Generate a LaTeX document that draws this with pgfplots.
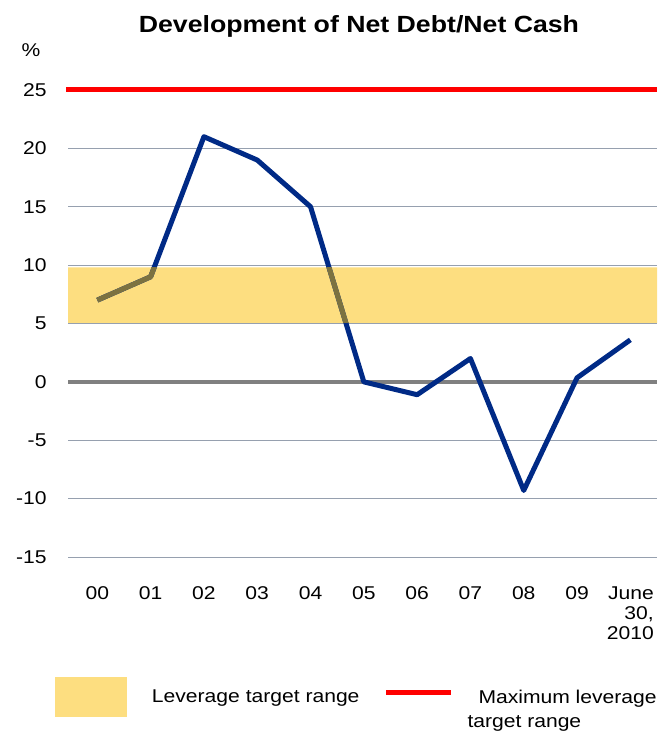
\documentclass[border=0pt]{standalone}
\usepackage{pgfplots}
\pgfplotsset{compat=1.18}
\usepackage{fontspec}
\setmainfont{Liberation Sans}[FakeStretch=1.14]
\definecolor{navyline}{RGB}{0,42,134}
\definecolor{bandcol}{RGB}{253,222,128}
\definecolor{olivecol}{RGB}{124,114,64}
\definecolor{gridcol}{RGB}{150,160,175}
\definecolor{zerocol}{RGB}{128,128,128}
\definecolor{redcol}{RGB}{255,0,0}
\pgfplotstableread{
x y
0 7
1 9
2 21
3 19
4 15
5 0
6 -1.1
7 2
8 -9.3
9 0.35
10 3.6
}\netdebt
\begin{document}
\begin{tikzpicture}[x=1pt,y=1pt]
\path[use as bounding box] (0,0) rectangle (659,731);
\begin{axis}[
  at={(68pt,174pt)}, anchor=south west,
  width=589pt, height=467pt, scale only axis,
  xmin=-0.55, xmax=10.5, ymin=-15, ymax=25,
  clip=false,
  axis line style={draw=none},
  major tick length=0pt,
  xtick={0,1,2,3,4,5,6,7,8,9,10},
  xticklabels={00,01,02,03,04,05,06,07,08,09,{June\\30,\\2010}},
  ytick={-15,-10,-5,0,5,10,15,20,25},
  yticklabels={-15,-10,-5,0,5,10,15,20,25},
  ymajorgrids,
  major grid style={draw=gridcol, line width=1pt},
  xticklabel style={anchor=north, inner sep=0pt, yshift=-29.7pt, align=right,
    font=\fontsize{18.5}{19.7}\selectfont},
  yticklabel style={anchor=east, inner sep=0pt, xshift=-21.3pt,
    font=\fontsize{18.5}{22}\selectfont},
  title={Development of Net Debt/Net Cash},
  title style={at={(rel axis cs:0.494,1.1109)}, anchor=base, inner sep=0pt,
    font=\bfseries\fontsize{23.4}{28}\selectfont},
  every axis y label/.style={at={(rel axis cs:-0.0628,1.0857)}, anchor=center, inner sep=0pt,
    font=\fontsize{18.5}{22}\selectfont},
  ylabel={\%},
  legend columns=2,
  legend cell align=left,
  legend style={at={(rel axis cs:-0.0221,-0.2832)}, anchor=north west, draw=none,
    inner sep=0pt, outer sep=0pt,
    font=\fontsize{18.5}{22}\selectfont,
    nodes={inner sep=0pt},
    /tikz/row sep=10.5pt,
    /tikz/column 1/.style={column sep=25pt},
    /tikz/column 2/.style={column sep=24pt},
    /tikz/column 3/.style={column sep=14pt}},
]
% band
\addplot[fill=bandcol, draw=none,
  legend image code/.code={\fill[bandcol, draw=none, overlay] (0pt,-20pt) rectangle (72pt,20pt); \path[draw=none, fill=none] (0pt,-8pt) rectangle (72pt,8pt);}]
  coordinates {(-0.55,5.05) (10.5,5.05) (10.5,9.8) (-0.55,9.8) (-0.55,5.05)};
\addlegendentry{Leverage target range}
% max leverage
\addplot[redcol, line width=5pt,
  legend image code/.code={\draw[redcol, line width=5pt] (0pt,4.5pt) -- (65pt,4.5pt); \path[draw=none, fill=none] (0pt,-8pt) rectangle (65pt,8pt);}]
  coordinates {(-0.58,25) (10.5,25)};
\addlegendentry{\hspace*{11pt}Maximum leverage}
% zero line
\addplot[zerocol, line width=4pt, forget plot] coordinates {(-0.55,0) (10.5,0)};
% net debt line
\addplot[navyline, line width=5pt, line join=round, forget plot] table[x=x,y=y] {\netdebt};
\begin{scope}
\clip (axis cs:-0.55,5.05) rectangle (axis cs:10.5,9.8);
\addplot[olivecol, line width=5pt, line join=round, forget plot] table[x=x,y=y] {\netdebt};
\end{scope}
\addlegendimage{empty legend}
\addlegendentry{}
\addlegendimage{empty legend}
\addlegendentry{target range}
\end{axis}
\end{tikzpicture}
\end{document}
